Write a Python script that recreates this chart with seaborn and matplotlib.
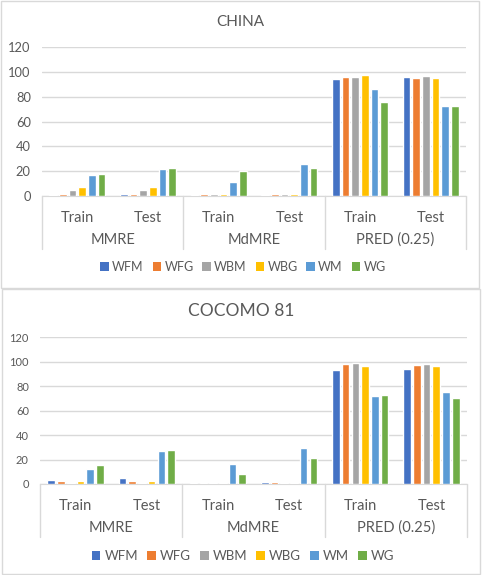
import pandas as pd
import matplotlib
matplotlib.use("Agg")
import matplotlib.pyplot as plt
import matplotlib.transforms as mtransforms
from matplotlib.patches import Patch, Rectangle
from matplotlib.lines import Line2D
import seaborn as sns

# data
metrics = ["MMRE", "MdMRE", "PRED (0.25)"]
phases = ["Train", "Test"]
models = ["WFM", "WFG", "WBM", "WBG", "WM", "WG"]
colors = ["#4472C4", "#ED7D31", "#A5A5A5", "#FFC000", "#5B9BD5", "#70AD47"]

# order of values: MMRE Train, MMRE Test, MdMRE Train, MdMRE Test, PRED Train, PRED Test
china_WFM = [0.8, 1.8, 0.8, 0.8, 94.5, 96.0]
china_WFG = [1.8, 1.8, 1.6, 1.6, 96.0, 95.3]
china_WBM = [4.5, 4.5, 1.6, 1.6, 96.0, 96.8]
china_WBG = [7.0, 7.0, 1.6, 1.6, 97.6, 95.3]
china_WM = [17.0, 22.0, 11.0, 26.0, 86.3, 72.6]
china_WG = [17.5, 22.5, 20.0, 22.5, 75.8, 72.6]

cocomo_WFM = [3.3, 4.9, 1.0, 1.8, 93.3, 94.1]
cocomo_WFG = [2.5, 2.5, 1.0, 1.8, 98.2, 97.4]
cocomo_WBM = [1.0, 1.0, 1.0, 1.0, 99.3, 98.2]
cocomo_WBG = [2.5, 2.5, 1.0, 1.0, 96.8, 96.8]
cocomo_WM = [12.3, 27.0, 16.4, 29.5, 72.0, 75.3]
cocomo_WG = [15.5, 28.0, 8.2, 21.3, 72.8, 70.4]

china = [china_WFM, china_WFG, china_WBM, china_WBG, china_WM, china_WG]
cocomo = [cocomo_WFM, cocomo_WFG, cocomo_WBM, cocomo_WBG, cocomo_WM, cocomo_WG]

cats = [m + "|" + p for m in metrics for p in phases]

def long_df(series):
    rows = []
    for model, vals in zip(models, series):
        for c, v in zip(cats, vals):
            rows.append({"cat": c, "model": model, "value": v})
    return pd.DataFrame(rows)

W, H = 482, 575
txt = "#595959"
grid = "#D9D9D9"

sns.set_style("white")
plt.rcParams["font.family"] = ["Lato", "DejaVu Sans"]

fig = plt.figure(figsize=(W / 100, H / 100), dpi=100)

def px_axes(left, right, top, bottom):
    return fig.add_axes([left / W, 1 - bottom / H, (right - left) / W, (bottom - top) / H])

def draw_panel(series, title, box, plot_box, title_y, title_fs, tick_fs, lab_fs, leg_y, leg_fs):
    # outer chart border
    bx0, by0, bx1, by1 = box
    fig.patches.append(Rectangle((bx0 / W, 1 - by1 / H), (bx1 - bx0) / W, (by1 - by0) / H,
                                 transform=fig.transFigure, fill=False, edgecolor=grid, lw=1))
    left, right, top, bottom = plot_box
    ax = px_axes(left, right, top, bottom)
    sns.barplot(data=long_df(series), x="cat", y="value", hue="model", order=cats,
                hue_order=models, palette=colors, width=0.82, gap=0.22,
                saturation=1, legend=False, ax=ax)
    for p in ax.patches:
        p.set_zorder(3)
    ax.set_ylim(0, 120)
    ax.set_xlim(-0.5, 5.5)
    ax.set_yticks(range(0, 121, 20))
    ax.yaxis.grid(True, color=grid, lw=1)
    ax.set_axisbelow(True)
    for s in ["top", "right", "left"]:
        ax.spines[s].set_visible(False)
    ax.spines["bottom"].set_color(grid)
    ax.spines["bottom"].set_zorder(1)
    ax.tick_params(axis="y", length=0, labelsize=tick_fs, labelcolor=txt, pad=8)
    ax.set_xticks(range(6))
    ax.set_xticklabels(phases * 3)
    ax.tick_params(axis="x", length=0, labelsize=lab_fs, labelcolor=txt, pad=11)
    ax.set_xlabel("")
    ax.set_ylabel("")

    # second level of the category axis
    tr = mtransforms.blended_transform_factory(ax.transData, fig.transFigure)
    for i, m in enumerate(metrics):
        ax.text(2 * i + 0.5, 1 - (bottom + 44) / H, m, transform=tr, ha="center",
                va="center", fontsize=lab_fs, color=txt)
    for xb in [-0.5, 1.5, 3.5, 5.5]:
        fig.add_artist(Line2D([xb, xb], [1 - bottom / H, 1 - (bottom + 53) / H],
                              transform=tr, color=grid, lw=1))

    fig.text((bx0 + bx1) / 2 / W, 1 - title_y / H, title, ha="center", va="center",
             fontsize=title_fs, color=txt)

    handles = [Patch(facecolor=c, edgecolor="none", label=m) for m, c in zip(models, colors)]
    fig.legend(handles=handles, loc="center", bbox_to_anchor=(243 / W, 1 - leg_y / H),
               ncol=6, frameon=False, fontsize=leg_fs, handlelength=0.65, handleheight=0.65,
               handletextpad=0.3, columnspacing=0.7, labelcolor=txt)
    return ax

draw_panel(china, "CHINA", (1, 1, 479, 288), (42, 466, 47.3, 196), 22, 11, 9.3, 10.5, 267, 9)
draw_panel(cocomo, "COCOMO 81", (2, 289, 480, 574), (40, 467, 337.3, 484), 311, 12.5, 8, 10.5, 556, 9.5)

fig.savefig("out.png", dpi=100, facecolor="white")
